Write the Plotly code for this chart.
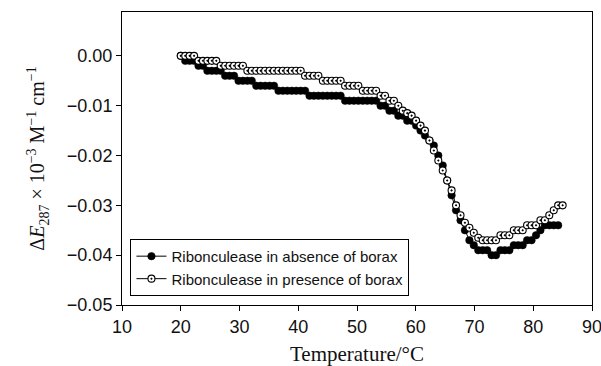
import plotly.graph_objects as go

temperature = [20.00, 20.76, 21.51, 22.27, 23.02, 23.78, 24.53, 25.29, 26.05, 26.80,
               27.56, 28.31, 29.07, 29.83, 30.58, 31.34, 32.09, 32.85, 33.60, 34.36,
               35.12, 35.87, 36.63, 37.38, 38.14, 38.90, 39.65, 40.41, 41.16, 41.92,
               42.67, 43.43, 44.19, 44.94, 45.70, 46.45, 47.21, 47.97, 48.72, 49.48,
               50.23, 50.99, 51.74, 52.50, 53.26, 54.01, 54.77, 55.52, 56.28, 57.03,
               57.79, 58.55, 59.30, 60.06, 60.81, 61.57, 62.33, 63.08, 63.84, 64.59,
               65.35, 66.10, 66.86, 67.62, 68.37, 69.13, 69.88, 70.64, 71.40, 72.15,
               72.91, 73.66, 74.42, 75.17, 75.93, 76.69, 77.44, 78.20, 78.95, 79.71,
               80.47, 81.22, 81.98, 82.73, 83.49, 84.24, 85.00]

absence = [0.000, -0.001, -0.001, -0.001, -0.002, -0.002, -0.003, -0.003, -0.003, -0.003,
           -0.004, -0.004, -0.004, -0.005, -0.005, -0.005, -0.005, -0.006, -0.006, -0.006,
           -0.006, -0.006, -0.007, -0.007, -0.007, -0.007, -0.007, -0.007, -0.007, -0.008,
           -0.008, -0.008, -0.008, -0.008, -0.008, -0.008, -0.008, -0.009, -0.009, -0.009,
           -0.009, -0.009, -0.009, -0.009, -0.009, -0.010, -0.010, -0.011, -0.011, -0.012,
           -0.012, -0.013, -0.013, -0.014, -0.015, -0.016, -0.017, -0.018, -0.020, -0.022,
           -0.025, -0.028, -0.031, -0.033, -0.035, -0.037, -0.038, -0.039, -0.039, -0.039,
           -0.040, -0.040, -0.039, -0.039, -0.039, -0.038, -0.038, -0.038, -0.037, -0.037,
           -0.036, -0.035, -0.034, -0.034, -0.034, -0.034, None]

presence = [0.000, 0.000, 0.000, 0.000, -0.001, -0.001, -0.001, -0.001, -0.001, -0.002,
            -0.002, -0.002, -0.002, -0.002, -0.002, -0.003, -0.003, -0.003, -0.003, -0.003,
            -0.003, -0.003, -0.003, -0.003, -0.003, -0.003, -0.003, -0.003, -0.004, -0.004,
            -0.004, -0.004, -0.005, -0.005, -0.005, -0.005, -0.005, -0.006, -0.006, -0.006,
            -0.006, -0.007, -0.007, -0.007, -0.007, -0.008, -0.008, -0.009, -0.009, -0.010,
            -0.011, -0.0115, -0.012, -0.013, -0.014, -0.015, -0.017, -0.019, -0.021, -0.023,
            -0.025, -0.027, -0.030, -0.032, -0.0335, -0.0345, -0.0355, -0.0365, -0.037, -0.037,
            -0.037, -0.037, -0.036, -0.036, -0.036, -0.035, -0.035, -0.035, -0.034, -0.034,
            -0.034, -0.033, -0.033, -0.032, -0.031, -0.030, -0.030]

series_names = ["Ribonculease in absence of borax", "Ribonculease in presence of borax"]
x_ticks = [10, 20, 30, 40, 50, 60, 70, 80, 90]
y_ticks = [0.00, -0.01, -0.02, -0.03, -0.04, -0.05]

fig = go.Figure()
fig.add_trace(go.Scatter(
    x=temperature, y=absence, name=series_names[0], mode="lines+markers",
    line=dict(color="black", width=1),
    marker=dict(symbol="circle", size=7.5, color="black", line=dict(color="black", width=0.5)),
))
fig.add_trace(go.Scatter(
    x=temperature, y=presence, name=series_names[1], mode="lines+markers",
    line=dict(color="black", width=1),
    marker=dict(symbol="circle-dot", size=7, color="white", line=dict(color="black", width=1.1)),
))

axis_common = dict(
    showgrid=False, zeroline=False, showline=True, linecolor="black", linewidth=1,
    mirror=True, ticks="outside", ticklen=5, tickcolor="black", tickwidth=1,
    automargin=False, ticklabeloverflow="allow",
    tickfont=dict(family="Liberation Sans, Arial, sans-serif", size=18, color="#111"),
)

fig.update_layout(
    width=601, height=366,
    margin=dict(l=122, r=9, t=12, b=61),
    paper_bgcolor="white", plot_bgcolor="white",
    showlegend=True,
    legend=dict(
        x=0.018, y=0.031, xanchor="left", yanchor="bottom",
        bordercolor="black", borderwidth=1, bgcolor="white",
        font=dict(family="Liberation Sans, Arial, sans-serif", size=15, color="#111"),
        tracegroupgap=0, itemwidth=30,
    ),
    xaxis=dict(
        range=[10, 90], tickvals=x_ticks, ticktext=[str(v) for v in x_ticks],
        title=dict(text="Temperature/°C", standoff=12,
                   font=dict(family="Liberation Serif, Times New Roman, serif", size=21, color="#111")),
        **axis_common,
    ),
    yaxis=dict(
        range=[-0.05, 0.0088], tickvals=y_ticks,
        ticktext=["0.00", "\u22120.01", "\u22120.02", "\u22120.03", "\u22120.04", "\u22120.05"],
        title=dict(text="Δ<i>E</i><sub>287</sub> × 10<sup>−3</sup> M<sup>−1</sup> cm<sup>−1</sup>",
                   standoff=16,
                   font=dict(family="Liberation Serif, Times New Roman, serif", size=20, color="#111")),
        **axis_common,
    ),
)

fig.write_html("out.html")
